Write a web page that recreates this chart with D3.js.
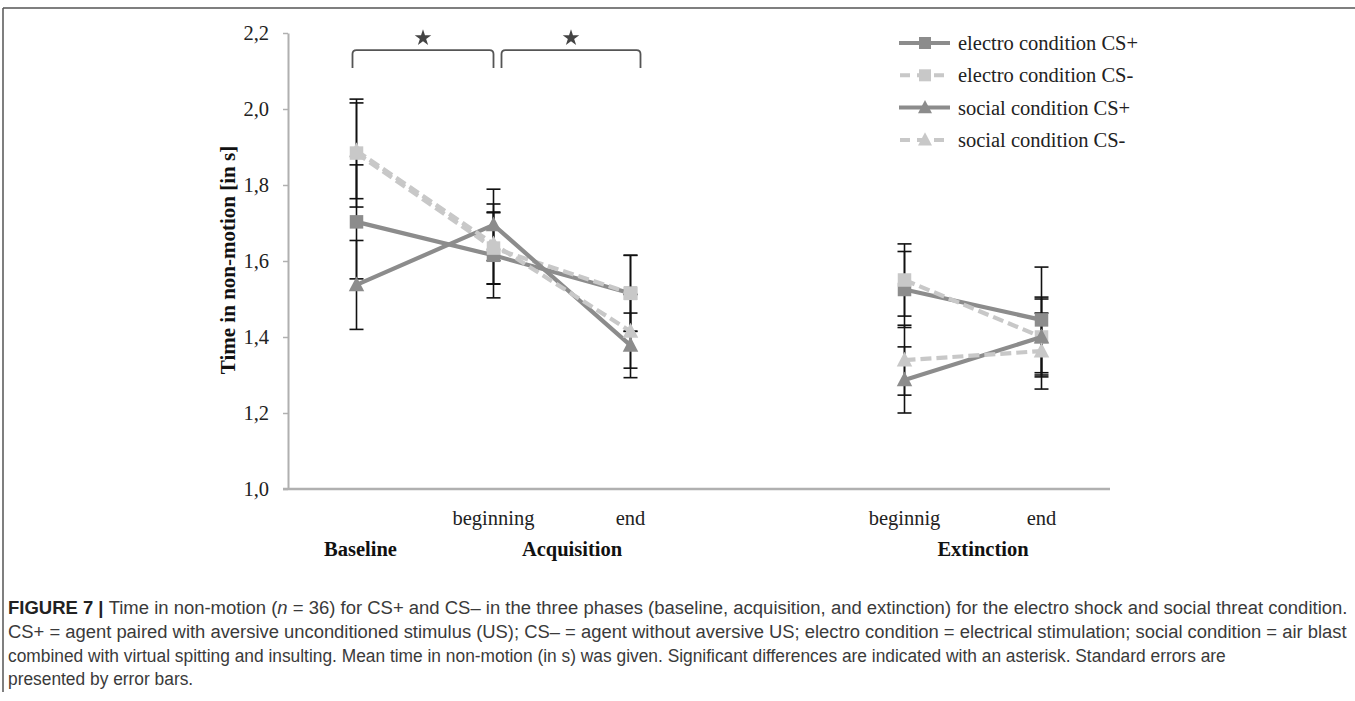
<!DOCTYPE html>
<html>
<head>
<meta charset="utf-8">
<script src="https://cdn.jsdelivr.net/npm/d3@7"></script>
<style>
  html, body { margin: 0; padding: 0; background: #fff; }
  svg { display: block; }
</style>
</head>
<body>
<svg id="fig" width="1355" height="701"></svg>
<script>
// Measurement points along the x axis (one empty slot separates the phases)
const slots = ["base", "acqBeg", "acqEnd", "gap", "extBeg", "extEnd"];
const slotLabels = ["", "beginning", "end", "", "beginnig", "end"];
const phases = [
  { name: "Baseline", from: "base", to: "base" },
  { name: "Acquisition", from: "acqBeg", to: "acqEnd" },
  { name: "Extinction", from: "extBeg", to: "extEnd" }
];
const plotSlots = ["base", "acqBeg", "acqEnd", "extBeg", "extEnd"];

// Mean time in non-motion (s) and standard errors
const electroPlus  = [1.703, 1.615, 1.515, 1.525, 1.445];
const electroPlusSE = [0.150, 0.112, 0.100, 0.100, 0.139];
const electroMinus = [1.884, 1.634, 1.515, 1.550, 1.400];
const electroMinusSE = [0.142, 0.095, 0.100, 0.095, 0.100];
const socialPlus   = [1.537, 1.695, 1.378, 1.287, 1.400];
const socialPlusSE = [0.117, 0.094, 0.085, 0.087, 0.105];
const socialMinus  = [1.890, 1.645, 1.415, 1.339, 1.363];
const socialMinusSE = [0.126, 0.105, 0.097, 0.092, 0.100];

const yTicks = [1.0, 1.2, 1.4, 1.6, 1.8, 2.0, 2.2];
const seriesNames = ["electro condition CS+", "electro condition CS-", "social condition CS+", "social condition CS-"];

// Significance brackets between measurement points
const brackets = [
  { from: "base", to: "acqBeg", dx0: -4, dx1: 0 },
  { from: "acqBeg", to: "acqEnd", dx0: 8, dx1: 10 }
];

const captionLines = [
  [{ t: "FIGURE 7 | ", b: true }, { t: "Time in non-motion (" }, { t: "n", i: true }, { t: " = 36) for CS+ and CS\u2013 in the three phases (baseline, acquisition, and extinction) for the electro shock and social threat condition." }],
  [{ t: "CS+ = agent paired with aversive unconditioned stimulus (US); CS\u2013 = agent without aversive US; electro condition = electrical stimulation; social condition = air blast" }],
  [{ t: "combined with virtual spitting and insulting. Mean time in non-motion (in s) was given. Significant differences are indicated with an asterisk. Standard errors are" }],
  [{ t: "presented by error bars." }]
];

const DARK = "#8c8c8c", LIGHT = "#c8c8c8";
const series = [
  { name: seriesNames[0], vals: electroPlus, se: electroPlusSE, color: DARK, dash: null, shape: "square" },
  { name: seriesNames[1], vals: electroMinus, se: electroMinusSE, color: LIGHT, dash: "11,5", shape: "square" },
  { name: seriesNames[2], vals: socialPlus, se: socialPlusSE, color: DARK, dash: null, shape: "triangle" },
  { name: seriesNames[3], vals: socialMinus, se: socialMinusSE, color: LIGHT, dash: "11,5", shape: "triangle" }
];

const svg = d3.select("#fig");
const serif = "'Liberation Serif', 'Times New Roman', serif";
const FS = 20.5;

// Outer frame (top rule and left rule)
svg.append("line").attr("x1", 3).attr("x2", 1355).attr("y1", 8).attr("y2", 8)
  .attr("stroke", "#555").attr("stroke-width", 1.5);
svg.append("line").attr("x1", 3).attr("x2", 3).attr("y1", 8).attr("y2", 692)
  .attr("stroke", "#555").attr("stroke-width", 1.5);

const x = d3.scaleBand().domain(slots).range([288, 1110]).padding(0);
const cx = k => x(k) + x.bandwidth() / 2;
const y = d3.scaleLinear().domain([1.0, 2.2]).range([489, 33]);

// Y axis
const yAxis = svg.append("g").attr("transform", "translate(288,0)")
  .call(d3.axisLeft(y).tickValues(yTicks).tickSize(5).tickSizeOuter(0)
    .tickFormat(d => d3.format(".1f")(d).replace(".", ",")));
yAxis.select(".domain").attr("stroke", "#b0b0b0").attr("stroke-width", 2);
yAxis.selectAll(".tick line").attr("stroke", "#b0b0b0").attr("stroke-width", 1.5);
yAxis.selectAll(".tick text").attr("font-family", serif).attr("font-size", FS)
  .attr("fill", "#222").attr("x", -19);

// X axis
const xAxis = svg.append("g").attr("transform", "translate(0,489)")
  .call(d3.axisBottom(x).tickSize(0).tickSizeOuter(0).tickFormat((d, i) => slotLabels[i]));
xAxis.select(".domain").attr("stroke", "#b0b0b0").attr("stroke-width", 2.5)
  .attr("d", "M" + (283) + ",0H" + x.range()[1]);
xAxis.selectAll(".tick text").attr("font-family", serif).attr("font-size", FS)
  .attr("fill", "#222").attr("dy", 0).attr("y", 36);

// Phase labels
svg.append("g").selectAll("text").data(phases).join("text")
  .attr("x", d => (cx(d.from) + cx(d.to)) / 2 + (d.from === d.to ? 4 : 10))
  .attr("y", 556)
  .attr("text-anchor", "middle")
  .attr("font-family", serif).attr("font-size", FS).attr("font-weight", "bold")
  .attr("fill", "#111")
  .text(d => d.name);

// Y axis title
svg.append("text")
  .attr("transform", "translate(235," + (y(1.6) - 1) + ") rotate(-90)")
  .attr("text-anchor", "middle")
  .attr("font-family", serif).attr("font-size", 21).attr("font-weight", "bold")
  .attr("fill", "#111")
  .text("Time in non-motion [in s]");

const plot = svg.append("g");

// Error bars
series.forEach(s => {
  const g = plot.append("g");
  s.vals.forEach((v, i) => {
    const px = cx(plotSlots[i]);
    const lo = y(v - s.se[i]), hi = y(v + s.se[i]);
    g.append("line").attr("x1", px).attr("x2", px).attr("y1", lo).attr("y2", hi)
      .attr("stroke", "#111").attr("stroke-width", 1.6);
    [lo, hi].forEach(yy => g.append("line")
      .attr("x1", px - 7).attr("x2", px + 7).attr("y1", yy).attr("y2", yy)
      .attr("stroke", "#111").attr("stroke-width", 1.6));
  });
});

// Lines are split at the gap between acquisition and extinction
const line = d3.line().x(d => cx(d.k)).y(d => y(d.v));
const segments = [[0, 1, 2], [3, 4]];

function marker(g, shape, px, py, color, size) {
  if (shape === "square") {
    g.append("rect").attr("x", px - size / 2).attr("y", py - size / 2)
      .attr("width", size).attr("height", size).attr("fill", color);
  } else {
    const h = size * 1.05;
    g.append("path")
      .attr("d", `M${px},${py - h * 0.6}L${px + size / 2 + 1},${py + h * 0.45}L${px - size / 2 - 1},${py + h * 0.45}Z`)
      .attr("fill", color);
  }
}

series.forEach(s => {
  const g = plot.append("g");
  segments.forEach(seg => {
    const pts = seg.map(i => ({ k: plotSlots[i], v: s.vals[i] }));
    g.append("path").attr("d", line(pts)).attr("fill", "none")
      .attr("stroke", s.color).attr("stroke-width", 4.2)
      .attr("stroke-dasharray", s.dash);
  });
  s.vals.forEach((v, i) => marker(g, s.shape, cx(plotSlots[i]), y(v), s.color, 13.5));
});

// Significance brackets with stars
brackets.forEach(b => {
  const x0 = cx(b.from) + b.dx0, x1 = cx(b.to) + b.dx1;
  const yt = y(2.155), yb = y(2.108), r = 4;
  svg.append("path")
    .attr("d", `M${x0},${yb}V${yt + r}Q${x0},${yt} ${x0 + r},${yt}H${x1 - r}Q${x1},${yt} ${x1},${yt + r}V${yb}`)
    .attr("fill", "none").attr("stroke", "#555").attr("stroke-width", 1.8);
  svg.append("path")
    .attr("transform", `translate(${(x0 + x1) / 2},${y(2.187)})`)
    .attr("d", d3.symbol().type(d3.symbolStar).size(85)())
    .attr("fill", "#444");
});

// Legend
const legend = svg.append("g");
series.forEach((s, i) => {
  const ly = 43 + i * 32.3;
  legend.append("line").attr("x1", 899).attr("x2", 950).attr("y1", ly).attr("y2", ly)
    .attr("stroke", s.color).attr("stroke-width", 4)
    .attr("stroke-dasharray", s.dash ? "10,7" : null)
    .attr("stroke-dashoffset", s.dash ? -1 : null);
  marker(legend, s.shape, 925, ly, s.color, 12);
  legend.append("text").attr("x", 958).attr("y", ly + 7)
    .attr("font-family", serif).attr("font-size", FS).attr("fill", "#222")
    .text(s.name);
});

// Caption: first two lines are justified to the full measure,
// the last two are set ragged with a shared condensing
const cap = svg.append("g");
const capNodes = captionLines.map(parts => {
  const t = cap.append("text")
    .attr("x", 0).attr("y", 0)
    .attr("font-family", "'Liberation Sans', Arial, sans-serif")
    .attr("font-size", 19).attr("fill", "#3a3a3a");
  parts.forEach(p => {
    t.append("tspan").text(p.t)
      .attr("font-weight", p.b ? "bold" : null)
      .attr("font-style", p.i ? "italic" : null)
      .attr("fill", p.b ? "#222" : null);
  });
  return t;
});
const widths = capNodes.map(t => t.node().getComputedTextLength());
const fit1 = 1340 / widths[1];
const fitRagged = ((1145 / widths[2]) + fit1) / 2;
const scales = [1340 / widths[0], fit1, fitRagged, fitRagged];
capNodes.forEach((t, li) => {
  t.attr("transform", `translate(8,${614 + li * 23.8}) scale(${scales[li]},1)`);
});
</script>
</body>
</html>
